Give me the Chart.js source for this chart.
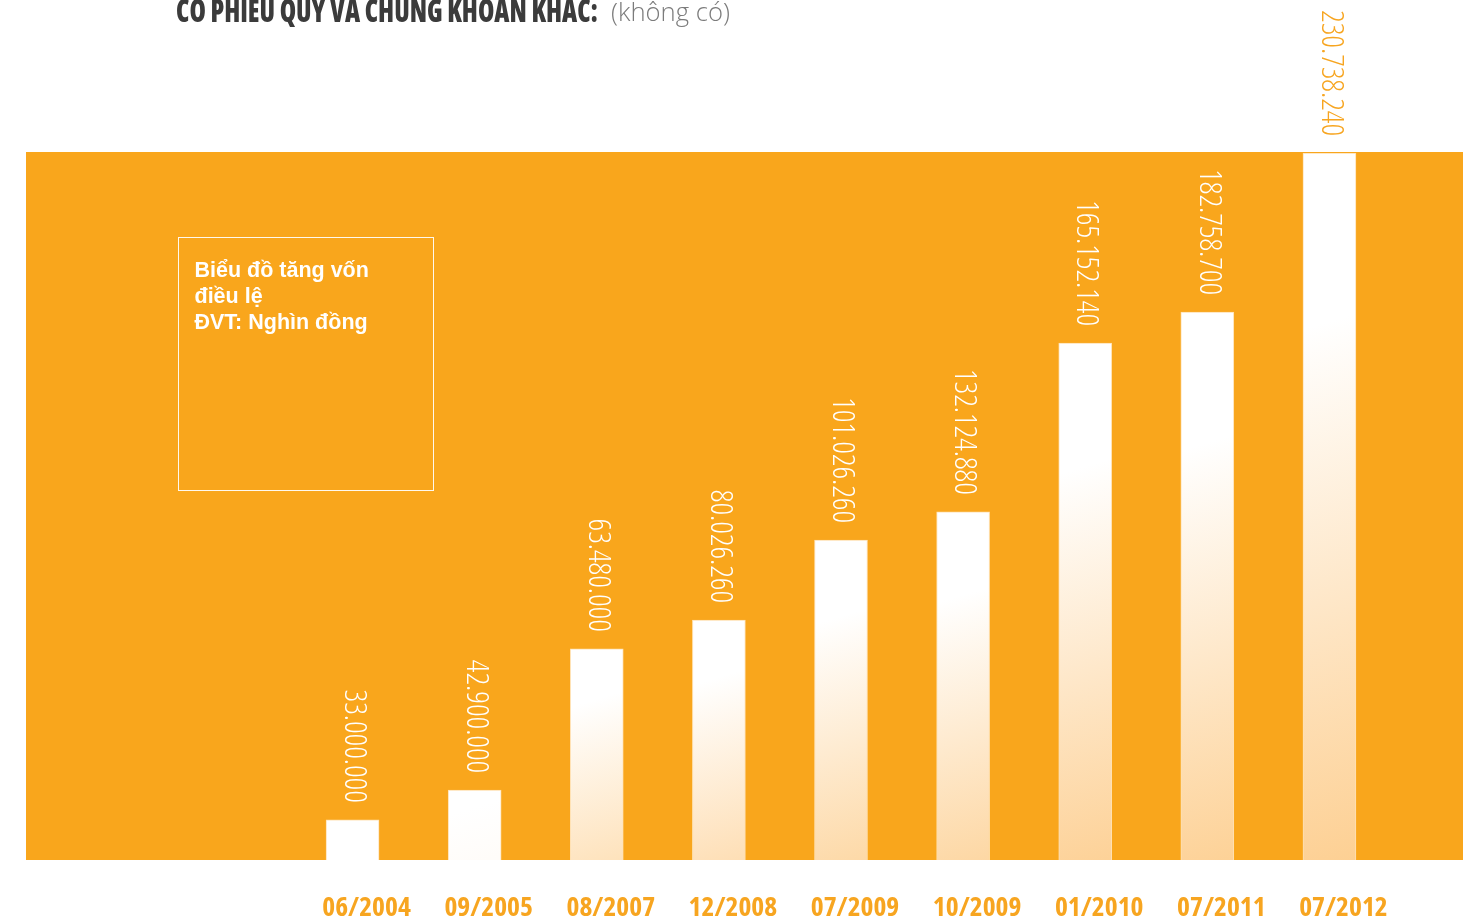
<!DOCTYPE html>
<html>
<head>
<meta charset="utf-8">
<script src="https://cdn.jsdelivr.net/npm/chart.js@4/dist/chart.umd.min.js"></script>
<style>
  html, body { margin: 0; padding: 0; background: #ffffff; overflow: hidden; }
  #wrap { position: relative; width: 1479px; height: 919px; }
  #chart { position: absolute; left: 0; top: 0; }
  .title {
    position: absolute; left: 176px; top: -6.4px; white-space: nowrap;
    font-family: "Open Sans", sans-serif; font-weight: 800; font-stretch: 75%;
    font-size: 32px; line-height: 32px; color: #3b3b3b;
    transform-origin: 0 0;
  }
  .sub {
    position: absolute; left: 611px; top: -2.1px; white-space: nowrap;
    font-family: "Open Sans", sans-serif; font-weight: 300;
    font-size: 26px; line-height: 26px; color: #7b7b7b;
    transform-origin: 0 0;
  }
  .box {
    position: absolute; left: 178px; top: 237px; width: 238px; height: 233.5px;
    border: 1px solid rgba(255,255,255,0.92);
    padding: 18.5px 0 0 15.5px;
    font: bold 21.5px/26.3px "Liberation Sans", Arial, sans-serif; color: #ffffff;
    white-space: nowrap;
  }
</style>
</head>
<body>
<div id="wrap">
  <canvas id="chart" width="1479" height="919"></canvas>
  <div class="title" id="title">CO PHIEU QUY VA CHUNG KHOAN KHAC:</div>
  <div class="sub" id="sub">(không có)</div>
  <div class="box">Biểu đồ tăng vốn<br>điều lệ<br>ĐVT: Nghìn đồng</div>
</div>
<script>
// ---- data ----
const categories = ["06/2004", "09/2005", "08/2007", "12/2008", "07/2009", "10/2009", "01/2010", "07/2011", "07/2012"];
// charter capital values printed above each bar (thousand VND)
const capitalLabels = ["33.000.000", "42.900.000", "63.480.000", "80.026.260", "101.026.260", "132.124.880", "165.152.140", "182.758.700", "230.738.240"];
// bar heights as drawn in the infographic (not proportional to the labels), in millions-equivalent units
const drawnHeights = [13.1, 22.8, 68.9, 78.3, 104.4, 113.6, 168.7, 178.8, 230.7];

const ORANGE = "#F9A61C";
const TEXT_ORANGE = "#F7A520";
const PEACH = [253, 205, 140];

// fit the heading texts to the widths they occupy in the original
function fitWidth(id, w) {
  const el = document.getElementById(id);
  const cur = el.getBoundingClientRect().width;
  if (cur > 0) el.style.transform = "scaleX(" + (w / cur) + ")";
}
fitWidth("title", 422);
fitWidth("sub", 119);

function peachFor(h) {
  let t = 1 - Math.exp(-(h - 60) / 170);
  t = Math.max(0, Math.min(1, t));
  const c = PEACH.map(v => Math.round(255 + (v - 255) * t));
  return `rgb(${c[0]},${c[1]},${c[2]})`;
}

const panelPlugin = {
  id: "panel",
  beforeDraw(chart) {
    const { ctx, chartArea } = chart;
    ctx.save();
    ctx.fillStyle = "#ffffff";
    ctx.fillRect(0, 0, chart.width, chart.height);
    ctx.fillStyle = ORANGE;
    ctx.fillRect(26, chartArea.top - 1, chart.width - 16 - 26, chartArea.bottom - chartArea.top + 1);
    ctx.restore();
  }
};

const labelPlugin = {
  id: "vlabels",
  afterDatasetsDraw(chart) {
    const { ctx, chartArea } = chart;
    const meta = chart.getDatasetMeta(0);
    ctx.save();
    ctx.font = '350 condensed 31px "Open Sans", sans-serif';
    ctx.textAlign = "right";
    ctx.textBaseline = "middle";
    meta.data.forEach((el, i) => {
      const y = el.y - 17;
      ctx.save();
      ctx.translate(el.x + 1, y);
      ctx.rotate(Math.PI / 2);
      ctx.fillStyle = (y < chartArea.top) ? TEXT_ORANGE : "#ffffff";
      ctx.fillText(capitalLabels[i], 0, 0);
      ctx.restore();
    });
    ctx.restore();
  }
};

new Chart(document.getElementById("chart"), {
  type: "bar",
  data: {
    labels: categories,
    datasets: [{
      data: drawnHeights,
      barThickness: 53,
      borderWidth: 1,
      borderSkipped: "bottom",
      borderColor: "rgba(255,232,196,0.9)",
      backgroundColor(ctx) {
        const chart = ctx.chart;
        const xs = chart.scales.x, ys = chart.scales.y;
        if (!chart.chartArea || !xs || !ys) return "#ffffff";
        const v = ctx.raw;
        const x = xs.getPixelForValue(ctx.dataIndex);
        const top = ys.getPixelForValue(v);
        const bottom = ys.getPixelForValue(0);
        const h = bottom - top;
        if (!isFinite(h) || h <= 0) return "#ffffff";
        const g = chart.ctx.createLinearGradient(x - 0.15 * h, top, x + 0.15 * h, bottom);
        g.addColorStop(0, "#ffffff");
        g.addColorStop(0.26, "#ffffff");
        g.addColorStop(1, peachFor(h));
        return g;
      }
    }]
  },
  options: {
    responsive: false,
    animation: false,
    events: [],
    layout: { padding: { left: 291.5, right: 88.5, top: 153, bottom: 0 } },
    plugins: { legend: { display: false }, tooltip: { enabled: false }, title: { display: false } },
    scales: {
      x: {
        grid: { display: false, drawTicks: false },
        border: { display: false },
        ticks: {
          color: TEXT_ORANGE,
          padding: 32,
          labelOffset: 14,
          maxRotation: 0,
          autoSkip: false,
          font: { family: '"Open Sans", sans-serif', size: 27.5, weight: "bold condensed", lineHeight: 1.2 }
        },
        afterFit(scale) { scale.height = 59; }
      },
      y: {
        display: false,
        min: 0,
        max: Math.max(...drawnHeights)
      }
    }
  },
  plugins: [panelPlugin, labelPlugin]
});
</script>
</body>
</html>
